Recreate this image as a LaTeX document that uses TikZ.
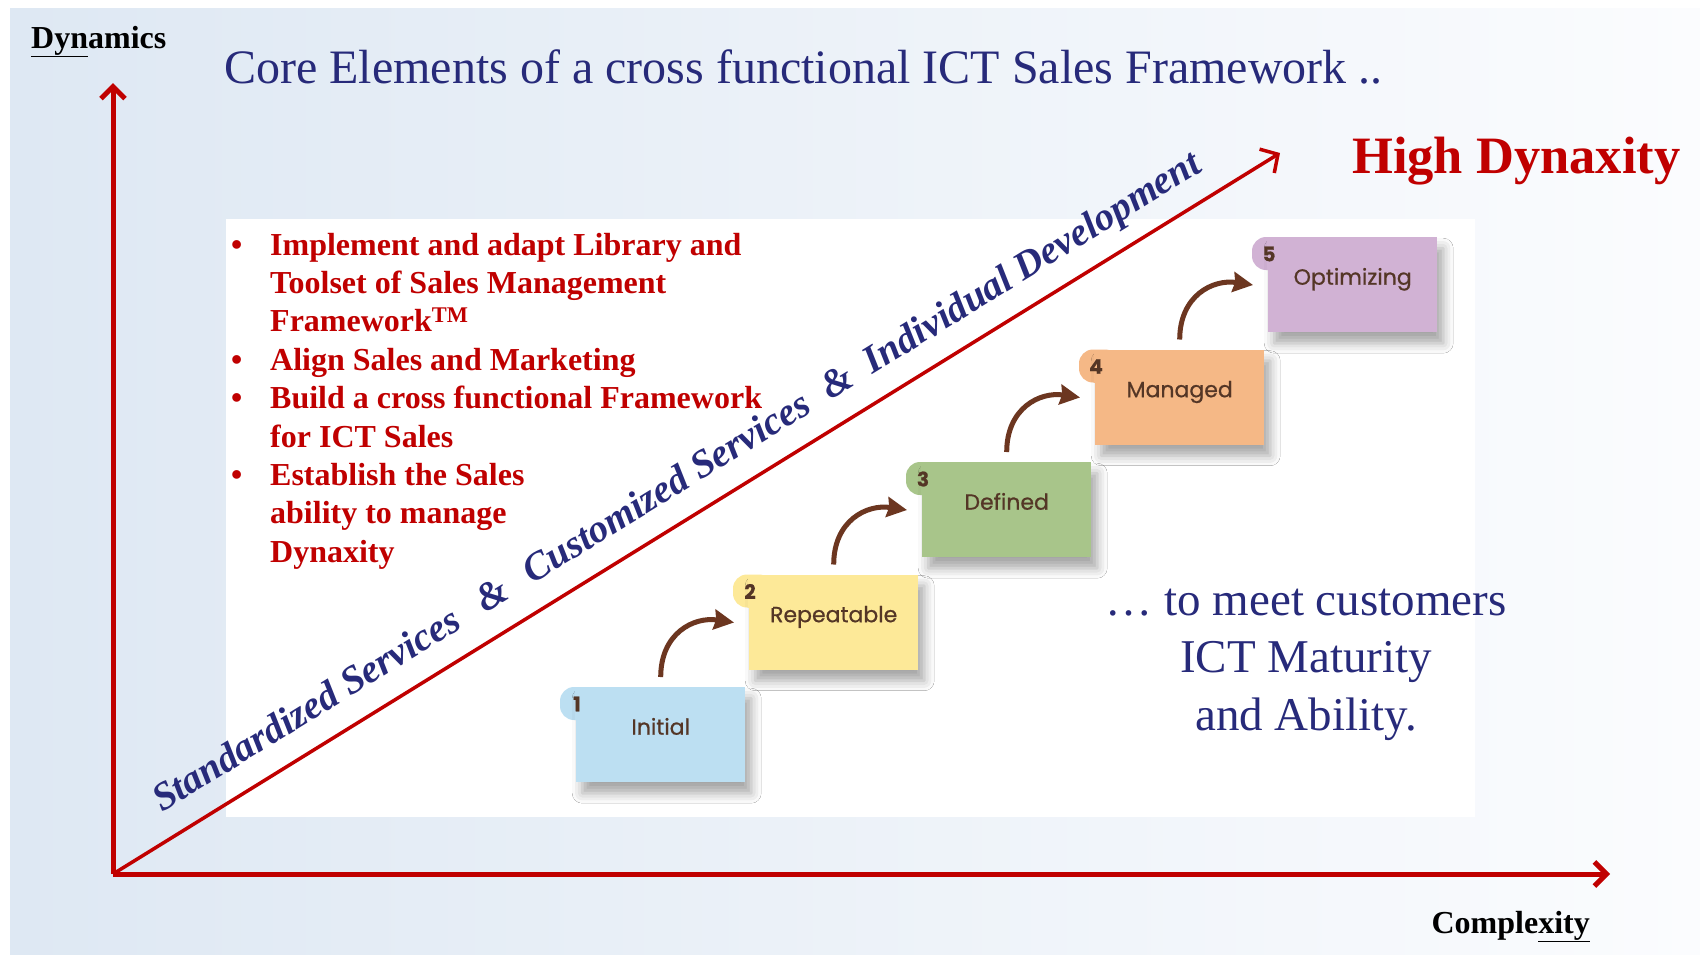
\documentclass[tikz,border=0pt]{standalone}
\usepackage{fontspec}
\setmainfont{Liberation Serif}
\newfontfamily\stepfont{Poppins}[FakeBold=0.7]
\usepackage{tikz}
\usetikzlibrary{arrows.meta,shadows.blur}
\definecolor{ictred}{RGB}{192,0,0}
\definecolor{navy}{RGB}{39,42,122}
\definecolor{bgleft}{RGB}{222,232,243}
\definecolor{bgright}{RGB}{251,252,254}
\definecolor{stepbrown}{RGB}{84,54,38}
\definecolor{arrowbrown}{RGB}{108,54,32}
\definecolor{c1}{RGB}{188,223,242}
\definecolor{c2}{RGB}{253,233,152}
\definecolor{c3}{RGB}{168,197,138}
\definecolor{c4}{RGB}{245,184,134}
\definecolor{c5}{RGB}{209,178,212}

\begin{document}
\begin{tikzpicture}[x=1pt, y=-1pt,
			axis/.style={draw=ictred, line width=5pt, -{Straight Barb[length=12pt,width=24pt]}},
			diag/.style={draw=ictred, line width=3.5pt, -{Straight Barb[length=13pt,width=28pt]}},
			soft shadow/.style={blur shadow={shadow xshift=6pt, shadow yshift=-11pt, shadow blur radius=10pt, shadow opacity=35}},
			step box/.style={minimum width=169pt, minimum height=95pt, anchor=north west, inner sep=0pt,
				font=\stepfont\fontsize{22}{26}\selectfont, text=stepbrown, soft shadow},
			step num/.style={inner sep=0pt, font=\stepfont\bfseries\fontsize{20}{22}\selectfont, text=stepbrown},
			step arrow/.style={draw=arrowbrown, line width=5pt, -{Stealth[length=20pt,width=20pt,inset=2pt]}},
			bullet/.style={anchor=base west, inner sep=0pt, text=ictred, font=\fontsize{32}{38.4}\selectfont\bfseries}]
			
			\useasboundingbox (0,0) rectangle (1700,954);
			\fill[white] (0,0) rectangle (1700,954);
			\shade[left color=bgleft, right color=bgright] (10,8) rectangle (1700,954);
			\fill[white] (226,219) rectangle (1475,817);
			
			% axes
			\coordinate (O) at (113,874);
			\coordinate (ytop) at (113,83);
			\coordinate (xend) at (1610,874);
			\coordinate (dtop) at (1280,153);
			\draw[axis] (O) -- (ytop);
			\draw[axis] (O) -- (xend);
			\draw[diag] (O) -- (dtop);
			
			\node[anchor=base west, inner sep=0pt, font=\fontsize{32}{38}\selectfont\bfseries] (dyn) at (31,48) {\underline{Dyn}amics};
			\node[anchor=base east, inner sep=0pt, font=\fontsize{32}{38}\selectfont\bfseries] (cpx) at (1590,933) {Comple\underline{xity}};
			\node[anchor=base west, inner sep=0pt, text=navy, font=\fontsize{48}{56}\selectfont] (title) at (224,83)
				{Core Elements of a cross functional ICT Sales Framework ..};
			\node[anchor=base west, inner sep=0pt, text=ictred, font=\fontsize{52.5}{60}\selectfont\bfseries] (high) at (1352,173) {High Dynaxity};
			\node[anchor=base west, inner sep=0pt, rotate=31.67, text=navy, font=\fontsize{39.2}{44}\selectfont\bfseries\itshape] (services) at (162,813)
				{Standardized Services\hspace{0.4em} \& \hspace{0.4em}Customized Services\hspace{0.25em} \& \hspace{0.25em}Individual Development};
			
			% bullet list (anchored on its last line)
			\node[bullet, align=left] (goals) at (270,562.2)
				{Implement and adapt Library and\\Toolset of Sales Management\\Framework\textsuperscript{TM}\\Align Sales and Marketing\\Build a cross functional Framework\\for ICT Sales\\Establish the Sales\\ability to manage\\Dynaxity};
			\foreach \y [count=\k] in {255,370.2,408.6,485.4}
				\node[bullet] (b\k) at (231,\y) {\textbullet};
			
			\node[anchor=base, align=center, inner sep=0pt, text=navy, font=\fontsize{47}{57.5}\selectfont] (meet) at (1306,730)
				{\dots\ to meet customers\\ICT Maturity\\and Ability.};
			
			% maturity steps
			\foreach \name/\col [count=\i] in {Initial/c1, Repeatable/c2, Defined/c3, Managed/c4, Optimizing/c5} {
				\pgfmathsetmacro\bx{576+173*(\i-1)}
				\pgfmathsetmacro\by{687-112.5*(\i-1)}
				\fill[\col, rounded corners=14pt] (\bx-16,\by) rectangle (\bx+24,\by+33);
				\node[step box, fill=\col] (\i) at (\bx,\by) {\smash{\name}};
				\fill[\col] (\bx-1,\by) rectangle (\bx+24,\by+33);
				\node[step num] (n\i) at (\bx+1,\by+17) {\i};
			}
			\foreach \i [evaluate=\i as \j using int(\i+1)] in {1,...,4}
				\draw[step arrow] ([yshift=10pt]\i.north) .. controls +(0,-44) and +(-40,-6) .. ([xshift=-15pt,yshift=-48pt]\j.north west);
			\end{tikzpicture}
\end{document}
